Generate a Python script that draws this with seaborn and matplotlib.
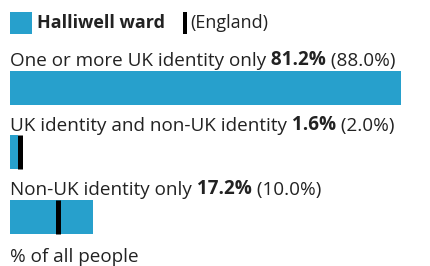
import numpy as np
import pandas as pd
import seaborn as sns
import matplotlib.pyplot as plt
from matplotlib.patches import Rectangle


# data
CATEGORIES = [
    "One or more UK identity only",
    "UK identity and non-UK identity",
    "Non-UK identity only",
]
AREA_VALUES = [81.2, 1.6, 17.2]
ENGLAND_VALUES = [88.0, 2.0, 10.0]
AREA_NAME = "Halliwell ward"
COMPARE_NAME = "(England)"
AXIS_LABEL = "% of all people"

BLUE = "#27a0cc"
INK = "#222222"
FONT = "Open Sans"
FSIZE = 13.6
W, H = 430, 266


def add_label(ax, x, y, parts):
    """Draw a run of text pieces (text, weight) one after another."""
    prev = ax.text(x, y, parts[0][0], fontsize=FSIZE, fontweight=parts[0][1],
                   family=FONT, color=INK, va="baseline", ha="left")
    for text, weight in parts[1:]:
        prev = ax.annotate(" " + text, xy=(1, 0), xycoords=prev,
                           fontsize=FSIZE, fontweight=weight, family=FONT,
                           color=INK, va="bottom", ha="left")
    return prev


def run():
    sns.set_style("white")
    plt.rcParams["font.family"] = [FONT, "DejaVu Sans"]

    df = pd.DataFrame({"category": CATEGORIES, "area": AREA_VALUES,
                       "england": ENGLAND_VALUES})

    fig = plt.figure(figsize=(W / 100, H / 100), dpi=100)
    ax = fig.add_axes([0, 0, 1, 1])

    bar_w = 0.527
    sns.barplot(data=df, x="area", y="category", orient="h", color=BLUE,
                saturation=1, width=bar_w, linewidth=0, ax=ax)

    # england markers
    ypos = np.arange(len(CATEGORIES))
    ax.vlines(df["england"], ypos - bar_w / 2, ypos + bar_w / 2,
              colors="black", linewidth=3.6)

    px = 4.815  # pixels per percent
    ax.set_xlim(-10 / px, (W - 10) / px)
    ax.set_ylim(2.76, -1.364)
    ax.axis("off")

    for i, row in df.iterrows():
        add_label(ax, 0, i - 0.34, [
            (row["category"], "normal"),
            (f"{row['area']:.1f}%", "bold"),
            (f"({row['england']:.1f}%)", "normal"),
        ])

    # overlay in pixel coordinates for legend and axis label
    lay = fig.add_axes([0, 0, 1, 1])
    lay.set_xlim(0, W)
    lay.set_ylim(H, 0)
    lay.axis("off")
    lay.add_patch(Rectangle((10, 12), 22, 22, color=BLUE, lw=0))
    lay.text(37, 28.5, AREA_NAME, fontsize=FSIZE - 0.6, fontweight="bold",
             family=FONT, color=INK, va="baseline")
    lay.add_patch(Rectangle((183, 12), 4, 22, color="black", lw=0))
    lay.text(190, 28.5, COMPARE_NAME, fontsize=FSIZE - 0.6, family=FONT,
             color=INK, va="baseline")
    lay.text(10, 262, AXIS_LABEL, fontsize=FSIZE, family=FONT, color=INK,
             va="baseline")

    fig.savefig("out.png", dpi=100, facecolor="white")


if __name__ == "__main__":
    run()
